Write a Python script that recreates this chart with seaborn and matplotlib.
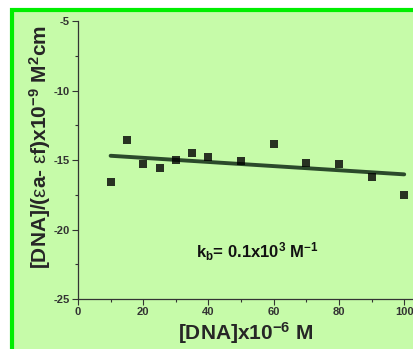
import numpy as np
import pandas as pd
import seaborn as sns
import matplotlib
matplotlib.use("Agg")
import matplotlib.pyplot as plt
from matplotlib.patches import Rectangle

dna = [10, 15, 20, 25, 30, 35, 40, 50, 60, 70, 80, 90, 100]
ratio = [-16.58, -13.58, -15.31, -15.55, -14.97, -14.5, -14.76, -15.07, -13.85, -15.19, -15.29, -16.25, -17.5]
x_ticks = [0, 20, 40, 60, 80, 100]
y_ticks = [-25, -20, -15, -10, -5]

df = pd.DataFrame({"dna": dna, "ratio": ratio})

sns.set_theme(style="ticks")
plt.rcParams['font.family'] = ['Liberation Sans', 'DejaVu Sans']
plt.rcParams['mathtext.fontset'] = 'custom'
plt.rcParams['mathtext.rm'] = 'Liberation Sans'
plt.rcParams['mathtext.bf'] = 'Liberation Sans:bold'
plt.rcParams['mathtext.it'] = 'Liberation Sans:italic'
plt.rcParams['axes.unicode_minus'] = False

bg = "#c6fba9"
fig = plt.figure(figsize=(4.14, 3.49), dpi=100)
fig.patch.set_facecolor("white")
fig.patches.append(Rectangle((12.5/414, -0.05), (414 - 12.5 + 2) / 414, 1 - 9.5/349 + 0.05,
                             transform=fig.transFigure, facecolor=bg, edgecolor="#00ee00",
                             linewidth=3, zorder=-5))
ax = fig.add_axes([78/414, 50/349, 1 - 78/414, (299 - 21)/349])
ax.set_facecolor("none")
ax.set_zorder(2)

sns.regplot(data=df, x="dna", y="ratio", ci=None, ax=ax, marker="s",
            scatter_kws=dict(s=26, color="black", linewidths=0, zorder=3),
            line_kws=dict(color="#2b4a2b", linewidth=2.8, zorder=2))

ax.set_xlim(0, 103)
ax.set_ylim(-25, -5)
ax.set_xticks(x_ticks)
ax.set_yticks(y_ticks)
ax.set_xticks(np.arange(10, 101, 20), minor=True)
ax.set_yticks(np.arange(-22.5, -5, 5), minor=True)
ax.tick_params(which="major", length=4, width=0.8, color="#333333", labelsize=8, labelcolor="#333333", pad=2)
ax.tick_params(which="minor", length=2.5, width=0.8, color="#333333")
for lab in ax.get_xticklabels() + ax.get_yticklabels():
    lab.set_fontweight("bold")
for s in ["top", "right"]:
    ax.spines[s].set_visible(False)
for s in ["left", "bottom"]:
    ax.spines[s].set_color("#333333")
    ax.spines[s].set_linewidth(0.9)

ax.set_xlabel(r"[DNA]x10$^{\mathbf{-6}}$ M", fontsize=15, fontweight="bold", labelpad=2)
ax.set_ylabel(r"[DNA]/($\mathrm{\epsilon}$a- $\mathrm{\epsilon}$f)x10$^{\mathbf{-9}}$ M$^{\mathbf{2}}$cm",
              fontsize=15, fontweight="bold")
ax.yaxis.set_label_coords(-0.075, 0.545)
ax.text(55, -21.6, r"k$_{\mathbf{b}}$= 0.1x10$^{\mathbf{3}}$ M$^{\mathbf{-1}}$", fontsize=12,
        fontweight="bold", ha="center", va="center", color="#111111")

fig.savefig("out.png", dpi=100, facecolor=fig.get_facecolor())
